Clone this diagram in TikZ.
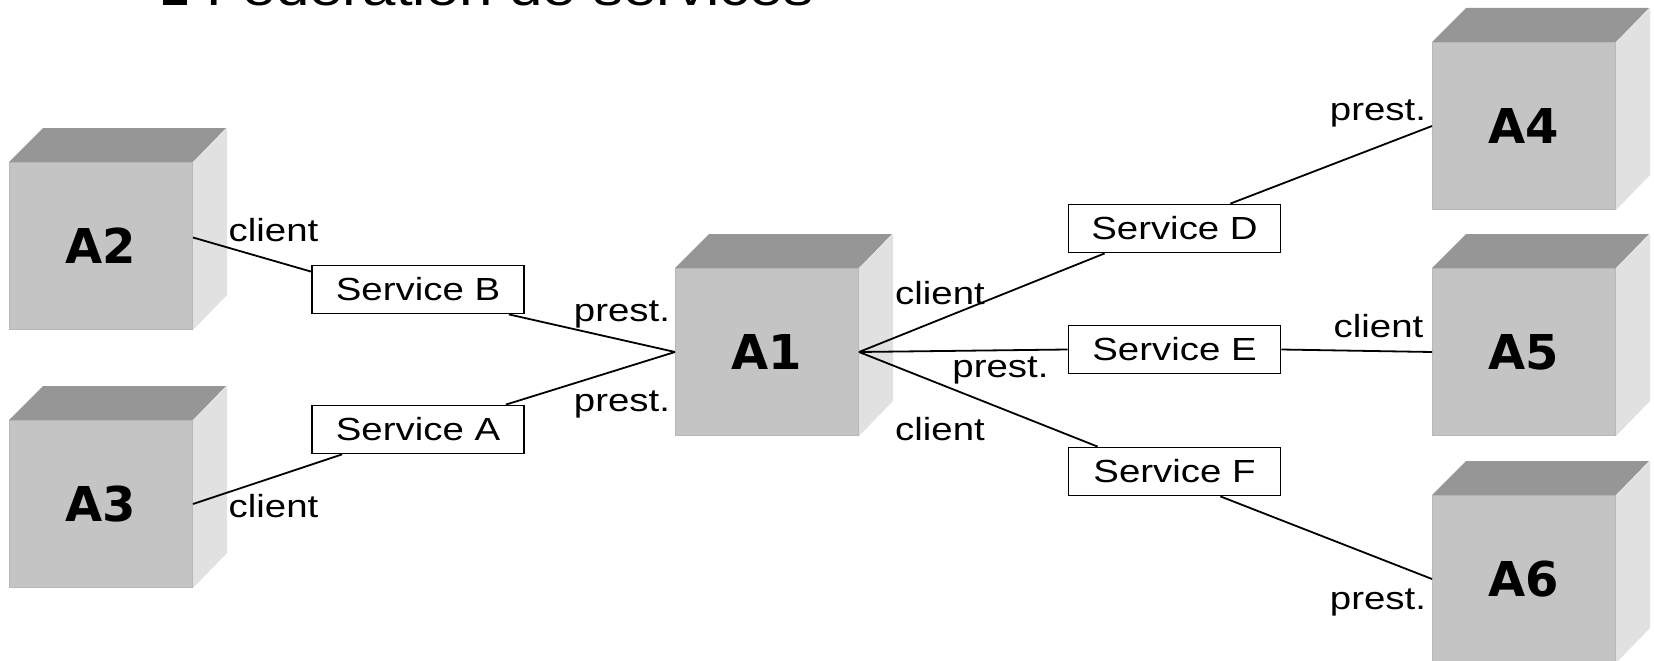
\documentclass[tikz,border=0pt]{standalone}
\usepackage{fontspec}
\setmainfont{Liberation Sans}[FakeStretch=1.2]
\newfontfamily\cubefont{DejaVu Sans}
\usetikzlibrary{calc}
\definecolor{cfront}{HTML}{C4C4C4}
\definecolor{cedge}{HTML}{B8B8B8}
\definecolor{ctop}{HTML}{969696}
\definecolor{cside}{HTML}{E1E1E1}
\newcommand\mycubefaces[1]{%
  \fill[ctop] (#1.north west) -- ++(34,-34) -- ++(183,0) -- (#1.north east) -- cycle;
  \fill[cside] (#1.north east) -- ++(34,-34) -- ++(0,167) -- (#1.south east) -- cycle;
}
\begin{document}
\begin{tikzpicture}[x=1pt,y=-1pt,
  cube/.style={rectangle, fill=cfront, draw=cedge, line width=1pt, minimum width=183pt, minimum height=167pt, inner sep=0pt, anchor=north west, font=\cubefont\bfseries\fontsize{48}{56}\selectfont},
  svc/.style={rectangle, draw, fill=white, line width=1.8pt, minimum width=212pt, minimum height=48pt, inner sep=0pt, font=\fontsize{32}{38}\selectfont},
  lbl/.style={inner sep=0pt, anchor=base, font=\fontsize{32}{38}\selectfont},
  conn/.style={line width=1.8pt},
  titletext/.style={inner sep=0pt, anchor=base west, font=\fontsize{50}{60}\selectfont}
]
\useasboundingbox (0,0) rectangle (1654,661);
\clip (0,0) rectangle (1654,661);
% title
\fill[black] (163,-19) rectangle (187,5);
\node[titletext] (title) at (206,6) {Fédération de services};
% cubes
\node[cube] (A2) at (9,162) {A2};
\node[cube] (A3) at (9,420) {A3};
\node[cube] (A1) at (675,268) {A1};
\node[cube] (A4) at (1432,42) {A4};
\node[cube] (A5) at (1432,268) {A5};
\node[cube] (A6) at (1432,495) {A6};
\mycubefaces{A2}
\mycubefaces{A3}
\mycubefaces{A1}
\mycubefaces{A4}
\mycubefaces{A5}
\mycubefaces{A6}
% services
\node[svc] (B) at (418,289.5) {Service B};
\node[svc] (A) at (418,429.5) {Service A};
\node[svc] (D) at (1174.5,228.5) {Service D};
\node[svc] (E) at (1174.5,349.5) {Service E};
\node[svc] (F) at (1174.5,471.5) {Service F};
% connectors
\draw[conn] ([yshift=8.5pt]A2.east) -- ([yshift=-7pt]B.north west);
\draw[conn] ([xshift=-16pt]B.south east) -- (A1.west);
\draw[conn] ([xshift=-19pt]A.north east) -- (A1.west);
\draw[conn] (A3.east) -- ([xshift=31pt]A.south west);
\draw[conn] (A1.east) -- ([xshift=37pt]D.south west);
\draw[conn] ([xshift=-51pt]D.north east) -- (A4.west);
\draw[conn] (A1.east) -- (E.west);
\draw[conn] (E.east) -- (A5.west);
\draw[conn] (A1.east) -- ([xshift=30pt]F.north west);
\draw[conn] ([xshift=-61pt]F.south east) -- (A6.west);
% labels
\node[lbl] (l1) at (273.5,241) {client};
\node[lbl] (l2) at (273.5,517) {client};
\node[lbl] (l3) at (622,321) {prest.};
\node[lbl] (l4) at (622,411) {prest.};
\node[lbl] (l5) at (940,304) {client};
\node[lbl] (l6) at (1000.5,377) {prest.};
\node[lbl] (l7) at (940,440) {client};
\node[lbl] (l8) at (1378,120) {prest.};
\node[lbl] (l9) at (1378.5,337) {client};
\node[lbl] (l10) at (1378,609) {prest.};
\end{tikzpicture}
\end{document}
